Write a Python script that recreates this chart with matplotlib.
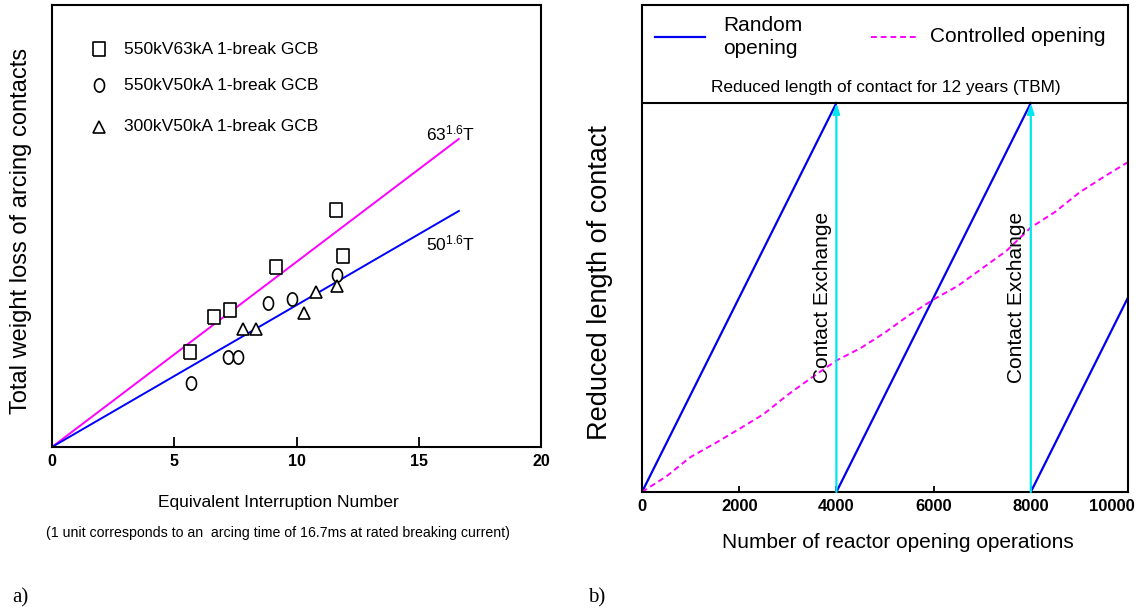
import numpy as np
import matplotlib
matplotlib.use("Agg")
import matplotlib.pyplot as plt
from matplotlib.transforms import ScaledTranslation

# ---- data: panel a) weight loss vs equivalent interruption number ----
sq_x = [5.64, 6.64, 7.28, 9.16, 11.63, 11.9]
sq_y = [21.5, 29.4, 31.0, 40.7, 53.6, 43.2]
ci_x = [5.7, 7.2, 7.62, 8.84, 9.8, 11.67]
ci_y = [14.5, 20.4, 20.4, 32.6, 33.5, 38.9]
tr_x = [7.8, 8.36, 10.3, 10.8, 11.64]
tr_y = [26.7, 26.7, 30.3, 35.1, 36.4]
fit_x = [0, 16.64]
fit63_y = [0, 69.7]
fit50_y = [0, 53.4]
legend_a = ["550kV63kA 1-break GCB", "550kV50kA 1-break GCB", "300kV50kA 1-break GCB"]
ticks_a = [0, 5, 10, 15, 20]

# ---- data: panel b) reduced contact length vs operations ----
rand_x = [0, 4000, np.nan, 4000, 8000, np.nan, 8000, 10000]
rand_y = [0, 1.0, np.nan, 0, 1.0, np.nan, 0, 0.5]
ctrl_x = [0, 500, 1000, 1500, 2000, 2500, 3000, 3500, 4000, 4500, 5000,
          5500, 6000, 6500, 7000, 7500, 8000, 8500, 9000, 9500, 10000]
ctrl_y = [0, 0.04, 0.09, 0.125, 0.162, 0.20, 0.25, 0.295, 0.338, 0.37, 0.41,
          0.455, 0.495, 0.53, 0.575, 0.62, 0.68, 0.72, 0.77, 0.81, 0.848]
exchange_x = [4000, 8000]
tbm_level = 1.0
ticks_b = [0, 2000, 4000, 6000, 8000, 10000]

plt.rcParams['font.family'] = ['Liberation Sans', 'DejaVu Sans']
plt.rcParams['mathtext.default'] = 'regular'

W, H = 1138, 614
fig = plt.figure(figsize=(W / 100, H / 100), dpi=100)


def px(x, y):
    return x / W, 1 - y / H


# ---------------- panel a ----------------
ax1 = fig.add_axes([52 / W, (H - 447) / H, 489 / W, 442 / H])
ax1.plot(fit_x, fit63_y, color='#ff00ff', lw=1.4)
ax1.plot(fit_x, fit50_y, color='#0000ff', lw=1.4)

rect = [(-0.42, -0.5), (0.42, -0.5), (0.42, 0.5), (-0.42, 0.5), (-0.42, -0.5)]
t = np.linspace(0, 2 * np.pi, 40)
ellipse = list(zip(0.38 * np.cos(t), 0.5 * np.sin(t)))
mk = dict(ls='none', mfc='white', mec='black', mew=1.2)
ax1.plot(sq_x, sq_y, marker=rect, ms=10, **mk)
ax1.plot(ci_x, ci_y, marker=ellipse, ms=9.5, **mk)
ax1.plot(tr_x, tr_y, marker='^', ms=9, **mk)

# legend drawn by hand like the original figure
leg_y = [90, 81.9, 72.4]
ax1.plot([1.92], [leg_y[0]], marker=rect, ms=10, **mk)
ax1.plot([1.92], [leg_y[1]], marker=ellipse, ms=9.5, **mk)
ax1.plot([1.92], [leg_y[2]], marker='^', ms=9, **mk)
for yy, lab in zip(leg_y, legend_a):
    ax1.text(2.94, yy, lab, va='center', ha='left', fontsize=12.5)

ax1.text(15.3, 71, '63$^{1.6}$T', fontsize=12.5, va='center')
ax1.text(15.3, 46, '50$^{1.6}$T', fontsize=12.5, va='center')

ax1.set_xlim(0, 20)
ax1.set_ylim(0, 100)
ax1.set_xticks(ticks_a)
ax1.set_yticks([])
ax1.tick_params(axis='x', direction='in', length=7, width=1.3, pad=5, labelsize=11.5)
for lab in ax1.get_xticklabels():
    lab.set_weight('bold')
for s in ax1.spines.values():
    s.set_linewidth(1.5)

fig.text(*px(21, 231), 'Total weight loss of arcing contacts', rotation=90,
         ha='center', va='center', fontsize=17)
fig.text(*px(278, 502), 'Equivalent Interruption Number', ha='center', va='center',
         fontsize=12.5)
fig.text(*px(278, 533), '(1 unit corresponds to an  arcing time of 16.7ms at rated breaking current)',
         ha='center', va='center', fontsize=10.2)
fig.text(*px(20, 598), 'a)', ha='center', va='center', fontsize=15, family='Liberation Serif')

# ---------------- panel b ----------------
ax2 = fig.add_axes([642 / W, (H - 492) / H, 486 / W, 487 / H])
ax2.plot(rand_x, rand_y, color='#0000ee', lw=1.6)
ax2.plot(ctrl_x, ctrl_y, color='#ff00ff', lw=1.4, ls=(0, (3, 2)))
for xe in exchange_x:
    ax2.annotate('', xy=(xe, tbm_level), xytext=(xe, 0),
                 arrowprops=dict(arrowstyle='-|>,head_length=0.6,head_width=0.2',
                                 color='#00e5ee', lw=1.6, shrinkA=0, shrinkB=0))
    ax2.text(xe - 290, 0.5, 'Contact Exchange', rotation=90, ha='center', va='center',
             fontsize=15)
ax2.axhline(tbm_level, color='black', lw=1.5)
ax2.text(5020, 1.041, 'Reduced length of contact for 12 years (TBM)', ha='center',
         va='center', fontsize=12.4)

# legend in the upper band
ax2.plot([267, 1296], [1.17, 1.17], color='#0000ee', lw=1.6)
ax2.text(1667, 1.17, 'Random\nopening', ha='left', va='center', fontsize=15,
         linespacing=1.3)
ax2.plot([4712, 5700], [1.17, 1.17], color='#ff00ff', lw=1.4, ls=(0, (3, 2)))
ax2.text(5926, 1.17, 'Controlled opening', ha='left', va='center', fontsize=15)

ax2.set_xlim(0, 10000)
ax2.set_ylim(0, 1.252)
ax2.set_xticks(ticks_b)
ax2.set_yticks([])
ax2.tick_params(axis='x', direction='in', length=4.5, width=1.3, pad=5, labelsize=12)
for lab in ax2.get_xticklabels():
    lab.set_weight('bold')
# last label sits flush with the right edge, as in the original
last = ax2.get_xticklabels()[-1]
last.set_ha('right')
last.set_transform(last.get_transform() + ScaledTranslation(0.07, 0, fig.dpi_scale_trans))
for s in ax2.spines.values():
    s.set_linewidth(1.5)

fig.text(*px(600, 283), 'Reduced length of contact', rotation=90, ha='center',
         va='center', fontsize=19.5)
fig.text(*px(898, 542), 'Number of reactor opening operations', ha='center',
         va='center', fontsize=15)
fig.text(*px(597, 598), 'b)', ha='center', va='center', fontsize=15, family='Liberation Serif')

fig.savefig('out.png', dpi=100)
